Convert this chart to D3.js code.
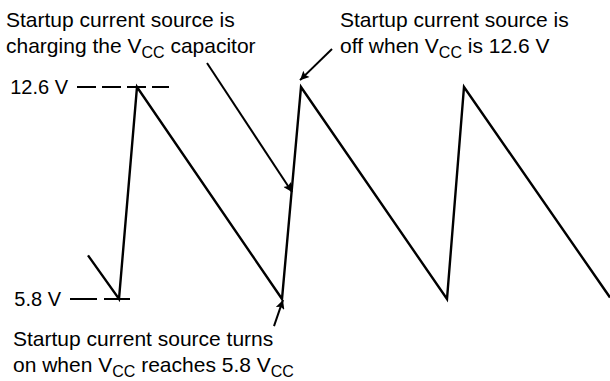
<!DOCTYPE html>
<html>
<head>
<meta charset="utf-8">
<script src="https://cdn.jsdelivr.net/npm/d3@7"></script>
<style>
  html, body { margin: 0; padding: 0; background: #fff; }
  svg { display: block; }
  text { font-family: "Liberation Sans", Arial, Helvetica, sans-serif; fill: #000; }
</style>
</head>
<body>
<svg id="chart" width="610" height="381"></svg>
<script>
// ---- data ----
const timePoints = [0, 3.1, 4.9, 19.4, 21.3, 35.9, 37.6, 52.2];
const voltages   = [7.2, 5.8, 12.6, 5.8, 12.6, 5.8, 12.6, 5.85];
const levelValues = [12.6, 5.8];
const levelLabels = ["12.6 V", "5.8 V"];
// annotation arrows: [tailT, tailV, tipT, tipV]
const arrowTails = [[11.9, 13.37], [24.4, 13.82], [18.6, 4.93]];
const arrowTips  = [[20.4, 9.23], [21.2, 12.82], [19.5, 5.77]];

const svg = d3.select("#chart");
const x = d3.scaleLinear().domain([0, 52.2]).range([88, 610]);
const y = d3.scaleLinear().domain([5.8, 12.6]).range([299, 87]);

svg.append("defs").append("marker")
  .attr("id", "ah").attr("viewBox", "0 0 10 10")
  .attr("refX", 10).attr("refY", 5)
  .attr("markerWidth", 13).attr("markerHeight", 9)
  .attr("markerUnits", "userSpaceOnUse")
  .attr("orient", "auto")
  .append("path").attr("d", "M0,0 L10,5 L0,10 L2,5 Z").attr("fill", "#000");

// level dashed lines
const levelDash = { "12.6": { x0: 77, x1: 169, dash: "19,6" }, "5.8": { x0: 70, x1: 130, dash: "27,7" } };
levelValues.forEach((v, i) => {
  const d = levelDash[String(v)];
  svg.append("line")
    .attr("x1", d.x0).attr("x2", d.x1)
    .attr("y1", y(v)).attr("y2", y(v))
    .attr("stroke", "#000").attr("stroke-width", 2)
    .attr("stroke-dasharray", d.dash);
  svg.append("text")
    .attr("x", d.x0 - 9).attr("y", y(v) + 7)
    .attr("text-anchor", "end")
    .attr("font-size", 20)
    .text(levelLabels[i]);
});

// waveform
const pts = timePoints.map((t, i) => [t, voltages[i]]);
svg.append("path")
  .datum(pts)
  .attr("d", d3.line().x(d => x(d[0])).y(d => y(d[1])))
  .attr("fill", "none").attr("stroke", "#000").attr("stroke-width", 2.4)
  .attr("stroke-linejoin", "miter");

// arrows
arrowTails.forEach((tl, i) => {
  const tp = arrowTips[i];
  svg.append("line")
    .attr("x1", x(tl[0])).attr("y1", y(tl[1]))
    .attr("x2", x(tp[0])).attr("y2", y(tp[1]))
    .attr("stroke", "#000").attr("stroke-width", 2)
    .attr("marker-end", "url(#ah)");
});

// annotation text helper
function label(xp, yp, parts) {
  const t = svg.append("text").attr("x", xp).attr("y", yp).attr("font-size", 21);
  let shifted = false;
  parts.forEach(p => {
    const s = t.append("tspan").text(p.t);
    if (p.sub) {
      s.attr("font-size", 16).attr("dy", 5);
      shifted = true;
    } else if (shifted) {
      s.attr("dy", -5);
      shifted = false;
    }
  });
}

label(6, 27, [{ t: "Startup current source is" }]);
label(6, 53, [{ t: "charging the V" }, { t: "CC", sub: true }, { t: " capacitor" }]);
label(340, 27, [{ t: "Startup current source is" }]);
label(340, 53, [{ t: "off when V" }, { t: "CC", sub: true }, { t: " is 12.6 V" }]);
label(13, 346, [{ t: "Startup current source turns" }]);
label(13, 372, [{ t: "on when V" }, { t: "CC", sub: true }, { t: " reaches 5.8 V" }, { t: "CC", sub: true }]);
</script>
</body>
</html>
